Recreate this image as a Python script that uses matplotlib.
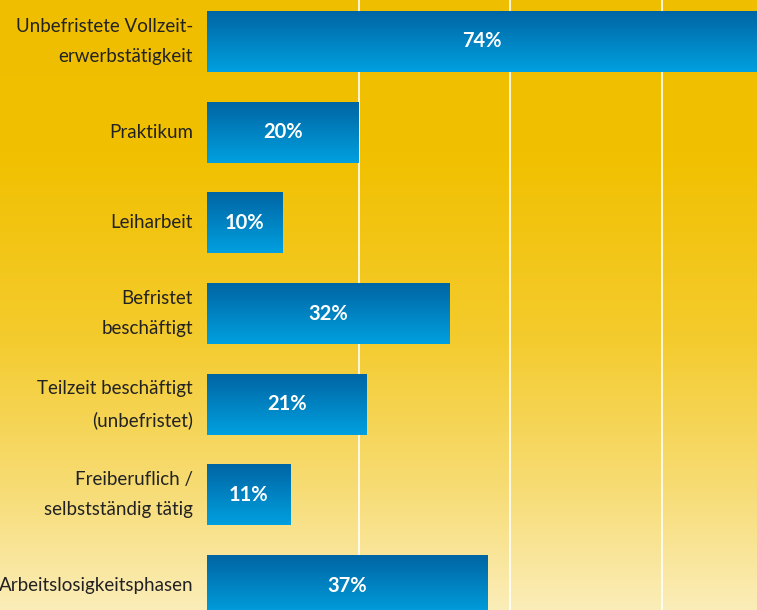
import numpy as np
import matplotlib.pyplot as plt
from matplotlib.colors import LinearSegmentedColormap

# data
categories = [
    "Unbefristete Vollzeit-\nerwerbstätigkeit",
    "Praktikum",
    "Leiharbeit",
    "Befristet\nbeschäftigt",
    "Teilzeit beschäftigt\n(unbefristet)",
    "Freiberuflich /\nselbstständig tätig",
    "Arbeitslosigkeitsphasen",
]
values = [74, 20, 10, 32, 21, 11, 37]
grid_ticks = [20, 40, 60]

FONT = ['Lato', 'DejaVu Sans']
XMAX = 72.5

fig = plt.figure(figsize=(7.57, 6.10), dpi=100)

# background gradient
bg = fig.add_axes([0, 0, 1, 1], zorder=0)
bg_cmap = LinearSegmentedColormap.from_list(
    'bg', [(0.0, '#F0BE00'), (0.25, '#F1C000'), (0.55, '#F4CB2C'),
           (0.8, '#F7DC74'), (1.0, '#FBEDB8')])
bg.imshow(np.linspace(0, 1, 256).reshape(-1, 1), cmap=bg_cmap,
          aspect='auto', extent=[0, 1, 0, 1], origin='upper')
bg.axis('off')

ax = fig.add_axes([207 / 757, 0, 550 / 757, 1], zorder=1)
ax.patch.set_alpha(0)

ypos = np.arange(len(categories))
bars = ax.barh(ypos, values, height=0.673, color='#0080C0', zorder=2)

bar_cmap = LinearSegmentedColormap.from_list('bar', ['#0064A2', '#00A0E0'])
grad = np.linspace(0, 1, 128).reshape(-1, 1)
for b in bars:
    x0, y0 = b.get_x(), b.get_y()
    w, h = b.get_width(), b.get_height()
    im = ax.imshow(grad, cmap=bar_cmap, aspect='auto', origin='upper',
                   extent=[x0, x0 + w, y0 + h, y0], zorder=3)
    im.set_clip_path(b)

for g in grid_ticks:
    ax.axvline(g, color='white', lw=1.4, alpha=0.85, zorder=1)

for y, v in zip(ypos, values):
    ax.text(min(v, XMAX) / 2, y, f"{v}%", ha='center', va='center',
            color='white', fontsize=14.5, fontweight='bold', family=FONT,
            zorder=4)

ax.set_xlim(0, XMAX)
ax.set_ylim(6.270, -0.4577)
ax.set_yticks(ypos)
ax.set_yticklabels(categories, family=FONT, fontsize=13.5, color='#222222')
for t in ax.get_yticklabels():
    t.set_linespacing(1.95)
    t.set_multialignment('right')
    t.set_verticalalignment('center')
ax.tick_params(axis='y', length=0, pad=10)
ax.set_xticks([])
for s in ax.spines.values():
    s.set_visible(False)

fig.savefig('out.png', dpi=100)
